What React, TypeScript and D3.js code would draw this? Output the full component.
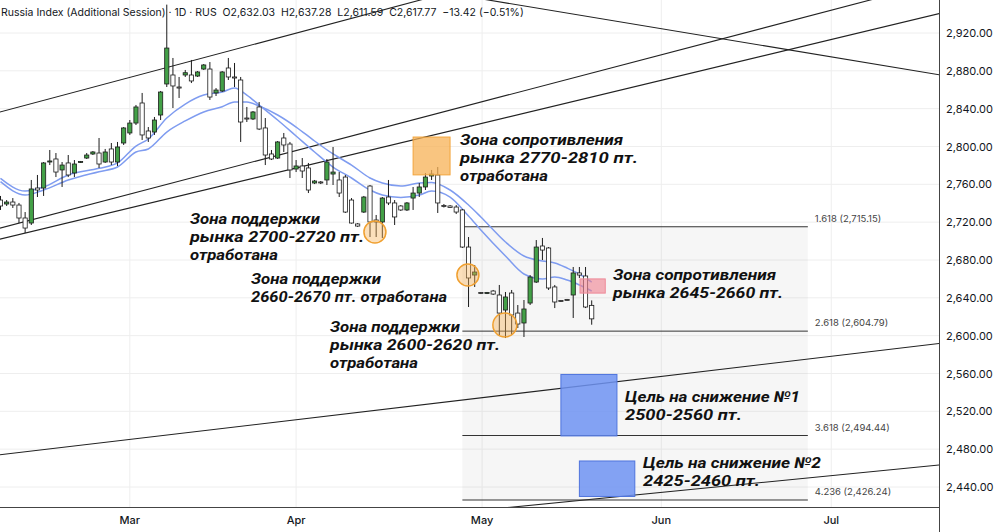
import React from "react";
import * as d3 from "d3";

// daily bars, index 0 = first visible session
const opens = [2743.4, 2739.2, 2741.3, 2738.1, 2724.4, 2719.1, 2756.1, 2756.1, 2783.6, 2786.8, 2775.2, 2782.6, 2772.0, 2783.1, 2787.8, 2792.1, 2793.1, 2783.6, 2797.4, 2783.6, 2803.7, 2814.3, 2824.8, 2846.0, 2816.4, 2815.3, 2833.3, 2866.1, 2875.6, 2862.9, 2875.6, 2875.6, 2874.5, 2881.9, 2881.9, 2856.6, 2858.7, 2883.0, 2873.5, 2870.3, 2830.1, 2829.1, 2841.8, 2819.6, 2792.1, 2787.8, 2809.0, 2802.6, 2776.2, 2779.4, 2777.3, 2761.4, 2762.5, 2764.6, 2770.9, 2764.6, 2767.7, 2743.4, 2718.1, 2730.7, 2758.2, 2722.3, 2720.2, 2746.6, 2740.3, 2737.1, 2732.9, 2745.5, 2750.8, 2757.2, 2768.8, 2769.9, 2737.6, 2737.1, 2736.0, 2732.9, 2693.7, 2664.1, 2645.6, 2644.6, 2647.2, 2643.0, 2627.1, 2645.1, 2623.9, 2613.4, 2634.5, 2656.7, 2694.8, 2692.7, 2651.5, 2637.2, 2638.2, 2643.0, 2666.3, 2663.1, 2632.03];
const highs = [2747.7, 2743.4, 2745.5, 2740.3, 2730.7, 2764.6, 2769.9, 2783.6, 2796.3, 2793.1, 2783.6, 2791.0, 2785.7, 2784.7, 2793.1, 2795.2, 2809.0, 2797.4, 2803.7, 2804.8, 2820.6, 2828.0, 2843.9, 2856.6, 2820.6, 2831.2, 2858.7, 2950.0, 2893.6, 2873.5, 2880.9, 2891.5, 2879.8, 2887.2, 2889.3, 2861.8, 2879.8, 2893.6, 2888.3, 2873.5, 2841.8, 2837.5, 2847.0, 2830.1, 2796.3, 2805.8, 2814.3, 2804.8, 2785.7, 2787.8, 2782.6, 2764.6, 2763.5, 2786.8, 2799.5, 2773.0, 2769.9, 2745.5, 2719.1, 2747.7, 2759.3, 2727.6, 2746.6, 2764.6, 2743.4, 2738.1, 2741.3, 2757.2, 2761.4, 2772.0, 2775.2, 2778.3, 2739.2, 2738.1, 2738.1, 2733.9, 2704.3, 2674.7, 2646.2, 2646.2, 2648.3, 2653.6, 2646.2, 2648.3, 2632.4, 2637.7, 2664.1, 2701.1, 2703.3, 2693.7, 2653.6, 2637.7, 2638.8, 2672.6, 2672.6, 2672.6, 2637.28];
const lows = [2732.9, 2737.1, 2735.0, 2719.1, 2708.5, 2717.0, 2746.6, 2747.7, 2780.4, 2767.7, 2757.2, 2767.7, 2767.7, 2782.6, 2786.8, 2791.0, 2777.3, 2782.6, 2780.4, 2779.4, 2801.6, 2812.2, 2822.7, 2806.9, 2804.8, 2812.2, 2828.0, 2862.9, 2840.7, 2851.3, 2873.5, 2867.1, 2873.5, 2880.9, 2849.2, 2853.4, 2857.6, 2870.3, 2862.9, 2804.8, 2825.9, 2828.0, 2817.4, 2780.4, 2785.7, 2786.8, 2794.2, 2766.7, 2773.0, 2766.7, 2750.8, 2760.3, 2760.3, 2759.3, 2759.3, 2746.6, 2729.7, 2718.5, 2714.9, 2729.7, 2704.3, 2704.3, 2703.3, 2738.1, 2717.0, 2731.8, 2731.8, 2732.9, 2746.6, 2754.0, 2764.6, 2729.7, 2735.5, 2735.0, 2728.6, 2692.7, 2630.3, 2651.5, 2644.0, 2644.0, 2643.0, 2600.7, 2597.5, 2600.7, 2608.1, 2598.6, 2632.4, 2655.7, 2680.0, 2648.3, 2629.2, 2635.6, 2637.2, 2618.7, 2661.0, 2629.2, 2611.59];
const closes = [2737.1, 2741.3, 2738.1, 2724.4, 2713.8, 2755.1, 2754.0, 2782.6, 2784.7, 2773.0, 2780.4, 2769.9, 2781.5, 2784.1, 2791.0, 2794.2, 2781.5, 2794.2, 2783.6, 2799.5, 2819.6, 2824.8, 2841.8, 2812.2, 2809.0, 2828.0, 2857.6, 2904.1, 2864.0, 2861.8, 2878.0, 2869.3, 2878.8, 2886.2, 2852.3, 2859.7, 2878.8, 2873.5, 2872.4, 2825.9, 2829.1, 2836.5, 2818.5, 2791.0, 2786.8, 2804.8, 2801.6, 2775.2, 2779.4, 2774.1, 2754.0, 2763.5, 2761.8, 2783.6, 2773.0, 2750.8, 2730.7, 2719.1, 2715.9, 2746.6, 2720.2, 2720.2, 2745.5, 2740.3, 2725.5, 2732.9, 2740.3, 2750.8, 2757.2, 2767.7, 2770.9, 2740.3, 2736.6, 2735.5, 2730.7, 2693.7, 2661.0, 2667.3, 2644.6, 2645.6, 2644.0, 2623.9, 2640.9, 2621.8, 2612.3, 2628.2, 2662.0, 2693.7, 2690.5, 2650.4, 2635.6, 2636.1, 2637.7, 2666.3, 2664.1, 2630.3, 2617.77];

// moving averages, read at these bar indices
const maIndex = [0, 4, 7, 11, 16, 19, 22, 24, 27, 30, 33, 36, 38, 40, 42, 45, 48, 51, 54, 57, 60, 62, 65, 68, 70, 73, 76, 78, 82, 85, 88, 90, 92, 94, 96];
const maFast = [2766.4, 2752.9, 2757.2, 2769.9, 2776.9, 2782.6, 2800.5, 2807.9, 2830.1, 2844.9, 2854.4, 2857.6, 2861.8, 2854.4, 2843.9, 2828.0, 2811.1, 2794.2, 2778.3, 2766.7, 2754.0, 2748.7, 2746.1, 2748.7, 2752.9, 2746.6, 2726.5, 2711.7, 2684.2, 2665.2, 2659.9, 2662.0, 2658.8, 2653.6, 2647.2];
const maSlow = [2762.8, 2748.7, 2754.0, 2764.6, 2773.4, 2778.3, 2794.2, 2797.4, 2815.3, 2827.0, 2836.5, 2842.1, 2847.0, 2847.0, 2842.8, 2833.3, 2820.6, 2805.8, 2792.1, 2780.4, 2766.7, 2761.4, 2758.2, 2761.4, 2761.9, 2754.0, 2738.1, 2725.5, 2699.0, 2684.2, 2678.9, 2676.8, 2671.5, 2665.2, 2656.7];

const monthLabels = ["Mar", "Apr", "May", "Jun", "Jul"];
const monthIndex = [21, 48, 78.2, 107.3, 134.9];
const priceTicks = d3.range(2440, 2921, 40);

const fibRatios = ["1.618", "2.618", "3.618", "4.236"];
const fibPrices = [2715.15, 2604.79, 2494.44, 2426.24];
const fibFrom = 75;
const fibTo = 131.1;

// drawn trend lines: two anchor points each [index, price, index, price]
const trendLines = [
  [0, 2836.6, 64.9, 2949.2],
  [0, 2713.8, 64.9, 2824.6],
  [0, 2702.2, 64.9, 2803.7],
  [0, 2474.1, 129.8, 2574.3],
  [83.8, 2419.2, 133.1, 2450.9],
  [79.2, 2954.9, 152.6, 2875.6],
];

// zones [index from, index to, price low, price high]
const resistZone = [67, 73, 2770, 2810];
const resistZone2 = [94.1, 98.2, 2645, 2660];
const targetZones = [
  [91.0, 100.1, 2494, 2559],
  [94.0, 103.0, 2430, 2467.5],
];
const supportIdx = [60.8, 75.9, 81.9];
const supportPrice = [2709.6, 2664.1, 2611.3];

const header =
  "Russia Index (Additional Session) · 1D · RUS  O2,632.03  H2,637.28  L2,611.59  C2,617.77  −13.42 (−0.51%)";

// annotation text: left x, first baseline, lines with their rendered widths
const notes = [
  { x: 460, y: 146, lines: ["Зона сопротивления", "рынка 2770-2810 пт.", "отработана"], w: [163, 178, 88] },
  { x: 190, y: 225, lines: ["Зона поддержки", "рынка 2700-2720 пт.", "отработана"], w: [130, 174, 88] },
  { x: 251, y: 285, lines: ["Зона поддержки", "2660-2670 пт. отработана"], w: [130, 196] },
  { x: 330, y: 333, lines: ["Зона поддержки", "рынка 2600-2620 пт.", "отработана"], w: [130, 170, 88] },
  { x: 613, y: 281, lines: ["Зона сопротивления", "рынка 2645-2660 пт."], w: [163, 170] },
  { x: 625, y: 403, lines: ["Цель на снижение №1", "2500-2560 пт."], w: [175, 117] },
  { x: 643, y: 469, lines: ["Цель на снижение №2", "2425-2460 пт."], w: [178, 117] },
];

const plotW = 939;
const plotH = 507;
const noteSize = 15;
const noteLead = 17.8;

export default function App() {
  const x = d3.scaleLinear().domain([0, 96]).range([0.5, 591.7]);
  const y = d3.scaleLinear().domain([2440, 2920]).range([487, 33]);
  const fmt = d3.format(",.2f");

  const maLine = (vals: number[]) =>
    d3
      .line<number>()
      .x((_, i) => x(maIndex[i]))
      .y((d) => y(d))
      .curve(d3.curveMonotoneX)(vals) ?? "";

  const bw = 4.2;
  const ink = "#1c1c1c";

  return (
    <svg
      width={1000}
      height={532}
      style={{ position: "absolute", left: 0, top: 0, background: "#fff", display: "block" }}
    >
      <defs>
        <clipPath id="plot">
          <rect x={0} y={0} width={plotW} height={plotH} />
        </clipPath>
      </defs>
      <rect x={0} y={0} width={1000} height={532} fill="#fff" />

      {/* grid */}
      <g stroke="#eeeeee" strokeWidth={1}>
        {priceTicks.map((p) => (
          <line key={p} x1={0} x2={plotW} y1={y(p)} y2={y(p)} />
        ))}
        {monthIndex.map((m, i) => (
          <line key={i} x1={x(m)} x2={x(m)} y1={0} y2={plotH} />
        ))}
      </g>

      <g clipPath="url(#plot)">
        {/* fib shading */}
        <rect
          x={x(fibFrom)}
          width={x(fibTo) - x(fibFrom)}
          y={y(fibPrices[0])}
          height={y(fibPrices[3]) - y(fibPrices[0])}
          fill="#9e9e9e"
          opacity={0.09}
        />

        {/* trend lines */}
        {trendLines.map((t, i) => {
          const x1 = x(t[0]);
          const y1 = y(t[1]);
          const x2 = x(t[2]);
          const y2 = y(t[3]);
          const k = (y2 - y1) / (x2 - x1);
          return (
            <line
              key={i}
              x1={-10}
              y1={y1 + k * (-10 - x1)}
              x2={960}
              y2={y1 + k * (960 - x1)}
              stroke="#222"
              strokeWidth={1.1}
            />
          );
        })}

        {/* fib levels */}
        {fibPrices.map((p, i) => (
          <line key={i} x1={x(fibFrom)} x2={x(fibTo)} y1={y(p)} y2={y(p)} stroke="#333" strokeWidth={1} />
        ))}

        {/* moving averages */}
        <path d={maLine(maSlow)} fill="none" stroke="#7f9cf0" strokeWidth={1.5} />
        <path d={maLine(maFast)} fill="none" stroke="#7f9cf0" strokeWidth={1.5} />

        {/* candles */}
        {opens.map((o, i) => {
          const c = closes[i];
          const up = c >= o;
          const top = y(Math.max(o, c));
          const h = Math.max(1, Math.abs(y(o) - y(c)));
          return (
            <g key={i}>
              <line x1={x(i)} x2={x(i)} y1={y(highs[i])} y2={y(lows[i])} stroke={ink} strokeWidth={1} />
              <rect
                x={x(i) - bw / 2}
                y={top}
                width={bw}
                height={h}
                fill={up ? "#43a047" : "#ffffff"}
                stroke={ink}
                strokeWidth={0.8}
              />
            </g>
          );
        })}

        {/* zones */}
        <rect
          x={x(resistZone[0])}
          width={x(resistZone[1]) - x(resistZone[0])}
          y={y(resistZone[3])}
          height={y(resistZone[2]) - y(resistZone[3])}
          fill="#f7b256"
          fillOpacity={0.75}
          stroke="#f2a43c"
          strokeWidth={1}
        />
        <rect
          x={x(resistZone2[0])}
          width={x(resistZone2[1]) - x(resistZone2[0])}
          y={y(resistZone2[3])}
          height={y(resistZone2[2]) - y(resistZone2[3])}
          fill="#f0808f"
          fillOpacity={0.6}
          stroke="#ee8a98"
          strokeWidth={1}
        />
        {targetZones.map((z, i) => (
          <rect
            key={i}
            x={x(z[0])}
            width={x(z[1]) - x(z[0])}
            y={y(z[3])}
            height={y(z[2]) - y(z[3])}
            fill="#6f93f2"
            fillOpacity={0.85}
            stroke="#4f74dd"
            strokeWidth={1}
          />
        ))}
        {supportIdx.map((s, i) => (
          <circle
            key={i}
            cx={x(s)}
            cy={y(supportPrice[i])}
            r={i === 2 ? 12 : 11}
            fill="#f7b256"
            fillOpacity={0.4}
            stroke="#f0a030"
            strokeWidth={1.5}
          />
        ))}
      </g>

      {/* fib labels */}
      {fibPrices.map((p, i) => (
        <text
          key={i}
          x={x(fibTo) + 7}
          y={y(p) - 5}
          fontFamily="Inter, Roboto, sans-serif"
          fontSize={9.5}
          fill="#444"
        >
          {`${fibRatios[i]} (${fmt(p)})`}
        </text>
      ))}

      {/* annotation text, one text block per note */}
      {notes.map((n, i) => (
        <text
          key={i}
          fontFamily="Roboto, 'Open Sans', sans-serif"
          fontWeight={700}
          fontStyle="italic"
          fontSize={noteSize}
          fill="#111"
        >
          {n.lines.map((l, j) => (
            <tspan
              key={j}
              x={n.x}
              y={n.y - 0.8 + j * noteLead}
              textLength={n.w[j]}
              lengthAdjust="spacingAndGlyphs"
            >
              {l}
            </tspan>
          ))}
        </text>
      ))}

      {/* axes */}
      <line x1={0} x2={plotW} y1={plotH + 0.5} y2={plotH + 0.5} stroke="#444" strokeWidth={1} />
      <line x1={plotW + 0.5} x2={plotW + 0.5} y1={0} y2={532} stroke="#444" strokeWidth={1} />
      {priceTicks.map((p) => (
        <text key={p} x={946} y={y(p) + 4} fontFamily="Inter, Roboto, sans-serif" fontSize={11} fill="#131722">
          {fmt(p)}
        </text>
      ))}
      {monthIndex.map((m, i) => (
        <text
          key={i}
          x={x(m)}
          y={524}
          textAnchor="middle"
          fontFamily="Inter, Roboto, sans-serif"
          fontSize={11}
          fontWeight={500}
          fill="#131722"
        >
          {monthLabels[i]}
        </text>
      ))}

      {/* legend */}
      <text x={1} y={16} fontFamily="Inter, Roboto, sans-serif" fontSize={10.5} fill="#131722" style={{ whiteSpace: "pre" }}>
        {header}
      </text>
    </svg>
  );
}
